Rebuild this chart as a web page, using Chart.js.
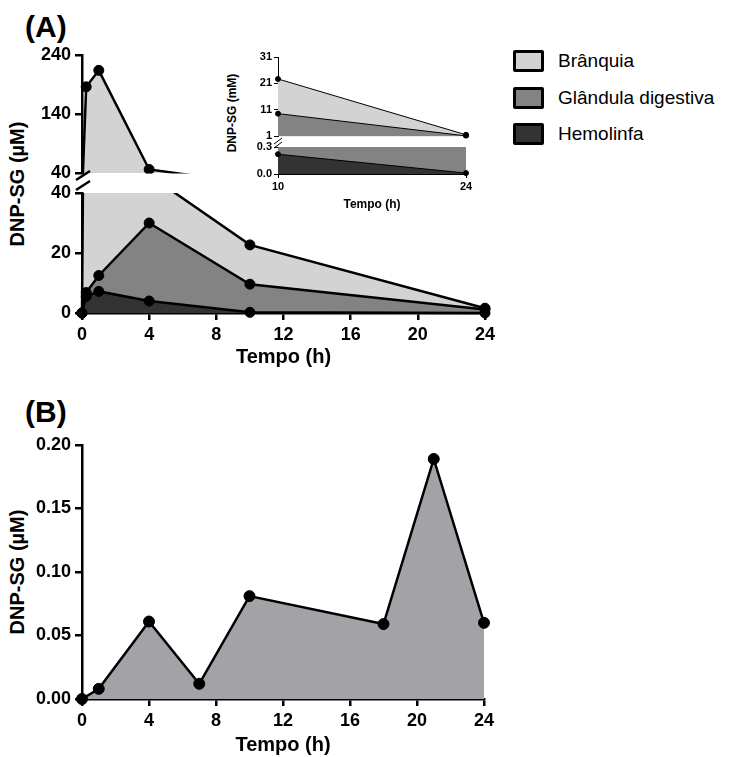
<!DOCTYPE html>
<html>
<head>
<meta charset="utf-8">
<script src="https://cdn.jsdelivr.net/npm/chart.js@4"></script>
<style>
  body { margin: 0; width: 730px; height: 757px; background: #fff; position: relative; overflow: hidden;
         font-family: "Liberation Sans", Arial, sans-serif; color: #000; }
  canvas { position: absolute; }
  .panel { position: absolute; font-weight: bold; font-size: 30px; line-height: 30px; }
  .ytitle { position: absolute; font-weight: bold; white-space: nowrap;
            transform: translate(-50%, -50%) rotate(-90deg); }
  .leg { position: absolute; left: 513px; height: 22px; display: flex; align-items: center; font-size: 19px; }
  .leg span { display: inline-block; width: 25px; height: 16px; border: 3px solid #000; border-radius: 2px; margin-right: 14px; }
</style>
</head>
<body>
<div class="panel" style="left:25px; top:12px;">(A)</div>
<div class="panel" style="left:25px; top:397px;">(B)</div>

<div class="ytitle" style="left:17px; top:184px; font-size:20px;">DNP-SG (µM)</div>
<div class="ytitle" style="left:232px; top:113px; font-size:12px;">DNP-SG (mM)</div>
<div class="ytitle" style="left:17px; top:572px; font-size:20px;">DNP-SG (µM)</div>

<div class="leg" style="top:50px;"><span style="background:#d3d3d3"></span>Brânquia</div>
<div class="leg" style="top:87px;"><span style="background:#838383"></span>Glândula digestiva</div>
<div class="leg" style="top:123px;"><span style="background:#333333"></span>Hemolinfa</div>

<canvas id="topA" width="520" height="150" style="left:0; top:40px;"></canvas>
<canvas id="botA" width="520" height="210" style="left:0; top:165px;"></canvas>
<canvas id="insTop" width="280" height="100" style="left:220px; top:45px;"></canvas>
<canvas id="insBot" width="280" height="83" style="left:220px; top:132px;"></canvas>
<canvas id="chartB" width="520" height="327" style="left:0; top:430px;"></canvas>

<script>
// panel A: time (h) and DNP-SG per tissue
const timeA = [0, 0.25, 1, 4, 10, 24];
const branquia = [0, 186, 214, 46, 22.7, 1.6];
const glandula = [0, 6.8, 12.5, 30, 9.6, 1.2];
const hemolinfa = [0, 5.5, 7.2, 4.0, 0.22, 0.01];

// panel B
const timeB = [0, 1, 4, 7, 10, 18, 21, 24];
const valuesB = [0, 0.008, 0.061, 0.012, 0.081, 0.059, 0.189, 0.060];

const LIGHT = '#d3d3d3', MID = '#838383', DARK = '#333333', FILL_B = '#a3a2a7';
const FONT = "'Liberation Sans', Arial, sans-serif";

const pts = (xs, ys, from = 0) => xs.slice(from).map((x, i) => ({ x, y: ys[from + i] }));

function series(data, color, order, small) {
  return {
    data,
    order,
    borderColor: '#000',
    borderWidth: small ? 1 : 2.5,
    backgroundColor: color,
    fill: 'origin',
    pointRadius: small ? 2.5 : 5,
    pointBorderWidth: 1,
    pointBackgroundColor: '#000',
    pointBorderColor: '#000',
    tension: 0,
  };
}

function axis(opts) {
  const small = opts.small;
  return {
    type: 'linear',
    min: opts.min,
    max: opts.max,
    display: opts.display !== false,
    border: { display: true, color: '#000', width: small ? 1 : 2.5 },
    grid: { display: true, drawOnChartArea: false, drawTicks: true, tickLength: small ? 4 : 7,
            color: '#000', lineWidth: small ? 1 : 2.5 },
    ticks: {
      color: '#000',
      padding: small ? 2 : 4,
      font: { family: FONT, weight: 'bold', size: small ? 11 : 18 },
      stepSize: opts.step,
      callback: opts.fmt || ((v) => v),
    },
    afterBuildTicks: opts.ticks ? (s) => { s.ticks = opts.ticks.map((v) => ({ value: v })); } : undefined,
    title: opts.title ? { display: true, text: opts.title, color: '#000',
             font: { family: FONT, weight: 'bold', size: small ? 12 : 20 },
             padding: { top: 0, bottom: opts.titlePad || 0 } } : { display: false },
    afterFit: (s) => {
      if (opts.width) s.width = opts.width;
      if (opts.height) s.height = opts.height;
    },
  };
}

function breakMarks(lines, width) {
  return {
    id: 'breaks',
    afterDraw(chart) {
      const ctx = chart.ctx;
      ctx.save();
      ctx.strokeStyle = '#000';
      ctx.lineWidth = width;
      lines.forEach(([x1, y1, x2, y2]) => {
        ctx.beginPath();
        ctx.moveTo(x1, y1);
        ctx.lineTo(x2, y2);
        ctx.stroke();
      });
      ctx.restore();
    },
  };
}

function make(id, datasets, scales, padding, plugins = []) {
  return new Chart(document.getElementById(id), {
    type: 'line',
    data: { datasets },
    options: {
      responsive: false,
      animation: false,
      events: [],
      layout: { padding },
      plugins: { legend: { display: false }, tooltip: { enabled: false } },
      scales,
    },
    plugins,
  });
}

// A, upper segment (40-240)
const topSet = series(pts(timeA, branquia), LIGHT, 3);
topSet.clip = { left: 10, top: 10, right: 10, bottom: 0.5 };
make('topA', [topSet], {
  x: axis({ min: 0, max: 24, display: false }),
  y: axis({ min: 40, max: 240, step: 100, width: 82 }),
}, { top: 15, right: 35, bottom: 17, left: 0 });

// A, lower segment (0-40)
const botSets = [
  series(pts(timeA, branquia), LIGHT, 3),
  series(pts(timeA, glandula), MID, 2),
  series(pts(timeA, hemolinfa), DARK, 1),
];
botSets.forEach((d) => { d.clip = { left: 10, top: 0, right: 10, bottom: 10 }; });
make('botA', botSets, {
  x: axis({ min: 0, max: 24, step: 4, height: 62, title: 'Tempo (h)', titlePad: 6 }),
  y: axis({ min: 0, max: 40, step: 20, width: 82 }),
}, { top: 28, right: 35, bottom: 0, left: 0 },
  [breakMarks([[76, 15, 90, 6], [76, 25, 90, 16]], 2.5)]);

// inset, upper segment (1-31)
const insTopSets = [
  series(pts(timeA, branquia, 4), LIGHT, 3, true),
  series(pts(timeA, glandula, 4), MID, 2, true),
];
insTopSets.forEach((d) => { d.clip = { left: 5, top: 5, right: 5, bottom: 2 }; });
make('insTop', insTopSets, {
  x: axis({ min: 10, max: 24, display: false, small: true }),
  y: axis({ min: 1, max: 31, step: 10, width: 58, small: true }),
}, { top: 12, right: 34, bottom: 8, left: 0 });

// inset, lower segment (0-0.3)
const insBotSets = [
  series(pts(timeA, glandula, 4), MID, 2, true),
  series(pts(timeA, hemolinfa, 4), DARK, 1, true),
];
insBotSets.forEach((d) => { d.clip = { left: 5, top: 0, right: 5, bottom: 5 }; });
make('insBot', insBotSets, {
  x: axis({ min: 10, max: 24, ticks: [10, 24], height: 41, title: 'Tempo (h)', titlePad: 3, small: true }),
  y: axis({ min: 0, max: 0.3, ticks: [0, 0.3], width: 58, small: true, fmt: (v) => v.toFixed(1) }),
}, { top: 15, right: 34, bottom: 0, left: 0 },
  [breakMarks([[54, 12, 62, 6], [54, 16, 62, 10]], 1)]);

// B
const setB = series(pts(timeB, valuesB), FILL_B, 1);
setB.pointRadius = 5.5;
setB.clip = { left: 10, top: 10, right: 10, bottom: 10 };
make('chartB', [setB], {
  x: axis({ min: 0, max: 24, step: 4, height: 58, title: 'Tempo (h)', titlePad: 0 }),
  y: axis({ min: 0, max: 0.2, step: 0.05, width: 82, fmt: (v) => v.toFixed(2) }),
}, { top: 15, right: 36, bottom: 0, left: 0 });
</script>
</body>
</html>
